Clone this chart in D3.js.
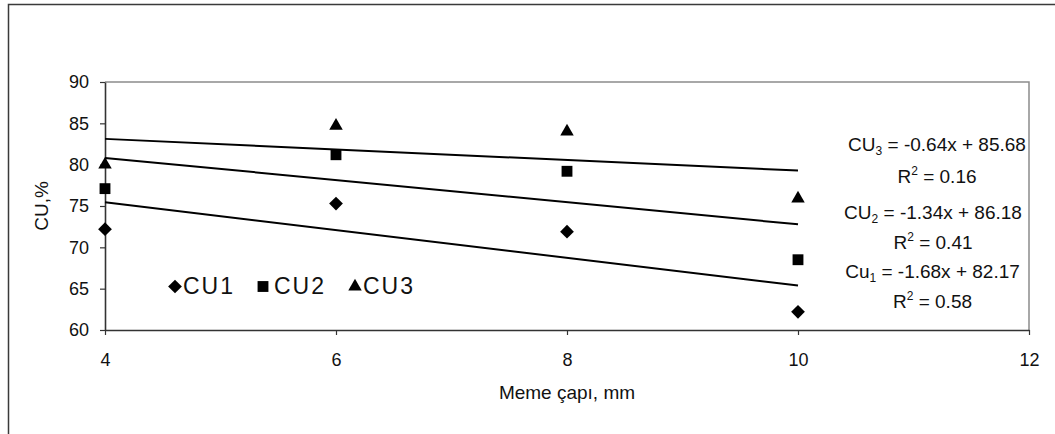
<!DOCTYPE html>
<html>
<head>
<meta charset="utf-8">
<script src="https://cdn.jsdelivr.net/npm/d3@7"></script>
<style>
  html, body { margin: 0; padding: 0; background: #fff; }
  svg { display: block; font-family: "Liberation Sans", Arial, sans-serif; }
</style>
</head>
<body>
<svg id="chart" width="1055" height="434"></svg>
<script>
// ---- data ----
const xValues = [4, 6, 8, 10];
const cu1 = [72.2, 75.3, 71.9, 62.2];
const cu2 = [77.1, 81.2, 79.2, 68.5];
const cu3 = [80.0, 84.7, 84.0, 75.9];
const seriesNames = ["CU1", "CU2", "CU3"];
const trendSlopes = [-1.68, -1.34, -0.64];
const trendIntercepts = [82.17, 86.18, 85.68];
const trendPrefix = ["Cu", "CU", "CU"];
const rSquared = ["0.58", "0.41", "0.16"];
const xTicks = [4, 6, 8, 10, 12];
const yTicks = [60, 65, 70, 75, 80, 85, 90];
const xTitle = "Meme çapı, mm";
const yTitle = "CU,%";

// ---- layout ----
const svg = d3.select("#chart");
const L = 105, R = 1029, T = 82, B = 330;
const x = d3.scaleLinear().domain([4, 12]).range([L, R]);
const y = d3.scaleLinear().domain([60, 90]).range([B, T]);

// outer frame (clipped on right and bottom)
svg.append("rect").attr("x", 8.5).attr("y", 4.5).attr("width", 1100).attr("height", 500)
  .attr("fill", "none").attr("stroke", "#3a3a3a").attr("stroke-width", 1.5);

// plot frame top & right (gray)
svg.append("path").attr("d", `M${L},${T}H${R}V${B}`)
  .attr("fill", "none").attr("stroke", "#8c8c8c").attr("stroke-width", 1.5);

// axes
const xAxis = svg.append("g").attr("transform", `translate(0,${B})`)
  .call(d3.axisBottom(x).tickValues(xTicks).tickFormat(d3.format("d"))
    .tickSize(5).tickSizeOuter(0).tickPadding(18));
const yAxis = svg.append("g").attr("transform", `translate(${L},0)`)
  .call(d3.axisLeft(y).tickValues(yTicks).tickFormat(d3.format("d"))
    .tickSize(5).tickSizeOuter(0).tickPadding(11));
[xAxis, yAxis].forEach(g => {
  g.select(".domain").attr("stroke", "#333").attr("stroke-width", 1.6);
  g.selectAll(".tick line").attr("stroke", "#333").attr("stroke-width", 1.2);
  g.selectAll(".tick text").attr("fill", "#111").style("font-size", "18px")
    .style("font-family", "'Liberation Sans', Arial, sans-serif");
});

// axis titles
svg.append("text").attr("x", (L + R) / 2).attr("y", 399).attr("text-anchor", "middle")
  .style("font-size", "19px").attr("fill", "#111").text(xTitle);
svg.append("text").attr("transform", `translate(48,${(T + B) / 2}) rotate(-90)`)
  .attr("text-anchor", "middle").style("font-size", "19px").attr("fill", "#111").text(yTitle);

// trend lines
trendSlopes.forEach((m, i) => {
  const b = trendIntercepts[i];
  svg.append("line")
    .attr("x1", x(4)).attr("y1", y(m * 4 + b))
    .attr("x2", x(10)).attr("y2", y(m * 10 + b))
    .attr("stroke", "#000").attr("stroke-width", 2);
});

// markers
const symbols = [d3.symbolDiamond2, d3.symbolSquare2, d3.symbolTriangle2];
const symbolSizes = [120, 150, 130];
function marker(g, i, cx, cy, scale) {
  const s = symbolSizes[i] * (scale || 1);
  let path = d3.symbol().type(symbols[i]).size(s)();
  g.append("path").attr("d", path)
    .attr("transform", `translate(${cx},${cy})`)
    .attr("fill", "#000");
}
[cu1, cu2, cu3].forEach((vals, i) => {
  const g = svg.append("g");
  vals.forEach((v, j) => marker(g, i, x(xValues[j]), y(v)));
});

// legend
const legendItems = [{mx: 175, tx: 183}, {mx: 263, tx: 274}, {mx: 355, tx: 363}];
const lg = svg.append("g");
legendItems.forEach((p, i) => {
  marker(lg, i, p.mx, 286.5, 1.0);
  lg.append("text").attr("x", p.tx).attr("y", 293.5)
    .style("font-size", "23px").style("letter-spacing", "2px").attr("fill", "#111").text(seriesNames[i]);
});

// equations
const eqG = svg.append("g").style("font-size", "19px").attr("fill", "#111");
const eqBase = [[278, 308], [219, 249], [151, 183]];
const eqCx = [932.5, 933, 937];
trendSlopes.forEach((m, i) => {
  const t1 = eqG.append("text").attr("x", eqCx[i]).attr("y", eqBase[i][0]).attr("text-anchor", "middle");
  t1.append("tspan").text(trendPrefix[i]);
  t1.append("tspan").attr("dy", 4).style("font-size", "12px").text(String(i + 1));
  t1.append("tspan").attr("dy", -4).text(` = ${m.toFixed(2)}x + ${trendIntercepts[i].toFixed(2)}`);
  const t2 = eqG.append("text").attr("x", eqCx[i]).attr("y", eqBase[i][1]).attr("text-anchor", "middle");
  t2.append("tspan").text("R");
  t2.append("tspan").attr("dy", -8).style("font-size", "12px").text("2");
  t2.append("tspan").attr("dy", 8).text(` = ${rSquared[i]}`);
});
</script>
</body>
</html>
